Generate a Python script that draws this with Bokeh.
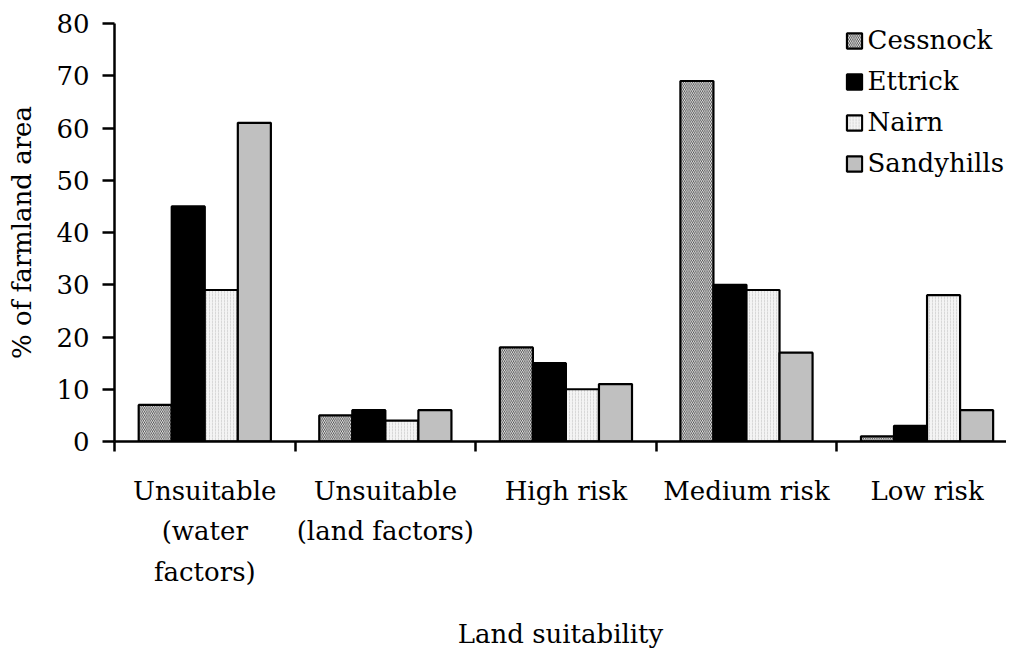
from bokeh.plotting import figure
from bokeh.models import Range1d, FixedTicker, Legend, LegendItem, ColumnDataSource
from bokeh.transform import dodge
from bokeh.embed import file_html
from bokeh.resources import INLINE

# ---- data ----
categories = ["Unsuitable\n(water\nfactors)", "Unsuitable\n(land factors)",
              "High risk", "Medium risk", "Low risk"]
series = ["Cessnock", "Ettrick", "Nairn", "Sandyhills"]
cessnock = [7, 5, 18, 69, 1]
ettrick = [45, 6, 15, 30, 3]
nairn = [29, 4, 10, 29, 28]
sandyhills = [61, 6, 11, 17, 6]
y_ticks = [0, 10, 20, 30, 40, 50, 60, 70, 80]

FONT = "DejaVu Serif"
FS = "26px"

centers = [i + 0.5 for i in range(len(categories))]
boundaries = [i for i in range(len(categories) + 1)]
source = ColumnDataSource(dict(x=centers, Cessnock=cessnock, Ettrick=ettrick,
                               Nairn=nairn, Sandyhills=sandyhills))

p = figure(frame_width=892, frame_height=418, output_backend="svg", toolbar_location=None,
           x_range=Range1d(0, 4.94), y_range=Range1d(0, 80),
           min_border_left=114, min_border_top=23, min_border_right=0, min_border_bottom=0)
p.outline_line_color = None
p.grid.visible = False
p.background_fill_color = "white"

bw = 0.183
offsets = [-1.5 * bw, -0.5 * bw, 0.5 * bw, 1.5 * bw]
styles = [
    dict(fill_color="white", hatch_pattern="\\", hatch_color="#333333", hatch_scale=3.6, hatch_weight=0.9),
    dict(fill_color="black"),
    dict(fill_color="#f4f4f4", hatch_pattern=":", hatch_color="#c4c4c4", hatch_scale=3, hatch_weight=0.6),
    dict(fill_color="#c0c0c0"),
]
renderers = []
for name, off, st in zip(series, offsets, styles):
    r = p.vbar(x=dodge("x", off), top=name, width=bw, bottom=0, source=source,
               line_color="black", line_width=2.2, **st)
    renderers.append(r)

ya = p.yaxis[0]
ya.ticker = FixedTicker(ticks=y_ticks, minor_ticks=[])
ya.axis_label = "% of farmland area"
xa = p.xaxis[0]
xa.ticker = FixedTicker(ticks=centers, minor_ticks=boundaries)
xa.major_label_overrides = {c: lab for c, lab in zip(centers, categories)}
xa.axis_label = "Land suitability"
xa.major_tick_out = 0
xa.major_tick_in = 0
xa.minor_tick_out = 10
xa.minor_tick_in = 0
xa.minor_tick_line_color = "black"
xa.minor_tick_line_width = 2.5
xa.major_label_standoff = 24
xa.major_label_text_line_height = 1.35
xa.axis_label_standoff = 29

ya.major_tick_out = 12
ya.major_tick_in = 0
ya.minor_tick_line_color = None
ya.major_label_standoff = 13
ya.axis_label_standoff = 16

for ax in (xa, ya):
    ax.axis_line_color = "black"
    ax.axis_line_width = 2.5
    ax.major_tick_line_color = "black"
    ax.major_tick_line_width = 2.5
    ax.major_label_text_font = FONT
    ax.major_label_text_font_size = FS
    ax.major_label_text_color = "black"
    ax.axis_label_text_font = FONT
    ax.axis_label_text_font_size = FS
    ax.axis_label_text_font_style = "normal"
    ax.axis_label_text_color = "black"

legend = Legend(items=[LegendItem(label=s, renderers=[r]) for s, r in zip(series, renderers)],
                location="top_right", border_line_color=None, background_fill_alpha=0,
                label_text_font=FONT, label_text_font_size=FS, label_text_color="black",
                glyph_width=19, glyph_height=19, label_standoff=4, spacing=11,
                padding=0, margin=2)
p.add_layout(legend, "center")

open("out.html", "w").write(file_html(p, INLINE))
